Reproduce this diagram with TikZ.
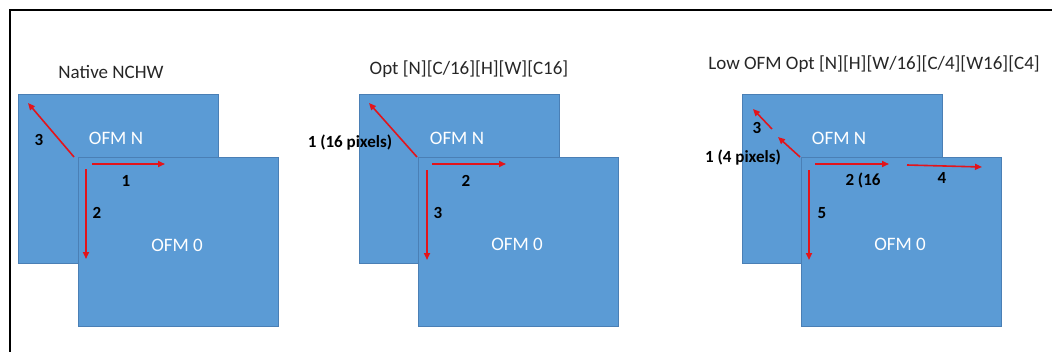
\documentclass[tikz,border=0pt]{standalone}
\usepackage{fontspec}
\setmainfont{Carlito}
\usetikzlibrary{arrows.meta}
\definecolor{ofmfill}{HTML}{5B9BD5}
\definecolor{ofmdraw}{HTML}{4A7FB5}
\definecolor{arrred}{HTML}{E3141B}
\tikzset{
  ofm/.style={draw=ofmdraw, line width=0.8pt, fill=ofmfill, minimum width=200pt, minimum height=169pt, inner sep=0pt},
  ofmtext/.style={text=white, font=\fontsize{19}{22}\selectfont, inner sep=0pt},
  title/.style={text=black!85, font=\fontsize{19}{22}\selectfont, inner sep=0pt},
  lbl/.style={text=black, font=\bfseries\fontsize{17}{20}\selectfont, inner sep=0pt},
  redarr/.style={draw=arrred, line width=1.6pt, -{Triangle[length=7pt,width=6pt]}}
}
\begin{document}
\begin{tikzpicture}[x=1pt,y=-1pt]
\useasboundingbox (0,0) rectangle (1052,351);
\draw[line width=2pt] (10,352) -- (10,10) -- (1053,10);
% ---------- Panel 1 ----------
\node[title] (t1) at (111,72) {Native NCHW};
\node[ofm, anchor=north west] (b1) at (18,94) {};
\node[ofm, anchor=north west] (f1) at (78,157) {};
\node[ofmtext] (n1) at (116,138) {OFM N};
\node[ofmtext] (z1) at (177,245) {OFM 0};
\coordinate (a3s1) at (74,157); \coordinate (a3e1) at (28,103);
\coordinate (a1s1) at (92,164); \coordinate (a1e1) at (165,164);
\coordinate (a2s1) at (86,169); \coordinate (a2e1) at (86,259);
\draw[redarr] (a3s1) -- (a3e1);
\draw[redarr] (a1s1) -- (a1e1);
\draw[redarr] (a2s1) -- (a2e1);
\node[lbl] (l31) at (39,140) {3};
\node[lbl] (l11) at (126,181) {1};
\node[lbl] (l21) at (97,213) {2};
% ---------- Panel 2 ----------
\node[title] (t2) at (469,69) {Opt [N][C/16][H][W][C16]};
\node[ofm, anchor=north west] (b2) at (359,94) {};
\node[ofm, anchor=north west] (f2) at (418,157) {};
\node[ofmtext] (n2) at (457,138) {OFM N};
\node[ofmtext] (z2) at (517,244) {OFM 0};
\coordinate (a1s2) at (417,157); \coordinate (a1e2) at (369,103);
\coordinate (a2s2) at (432,164); \coordinate (a2e2) at (506,164);
\coordinate (a3s2) at (427,170); \coordinate (a3e2) at (427,260);
\draw[redarr] (a1s2) -- (a1e2);
\draw[redarr] (a2s2) -- (a2e2);
\draw[redarr] (a3s2) -- (a3e2);
\node[lbl] (l12) at (350,143) {1 (16 pixels)};
\node[lbl] (l22) at (466,181) {2};
\node[lbl] (l32) at (438,213) {3};
% ---------- Panel 3 ----------
\node[title] (t3) at (874,64) {Low OFM Opt [N][H][W/16][C/4][W16][C4]};
\node[ofm, anchor=north west] (b3) at (742,94) {};
\node[ofm, anchor=north west] (f3) at (801,157) {};
\node[ofmtext] (n3) at (839,138) {OFM N};
\node[ofmtext] (z3) at (900,244) {OFM 0};
\coordinate (a1s3) at (800,157); \coordinate (a1e3) at (778,137);
\coordinate (a3s3) at (772,129); \coordinate (a3e3) at (753,109);
\coordinate (a2s3) at (815,164); \coordinate (a2e3) at (889,164);
\coordinate (a4s3) at (907,165); \coordinate (a4e3) at (982,167);
\coordinate (a5s3) at (809,170); \coordinate (a5e3) at (809,260);
\draw[redarr] (a1s3) -- (a1e3);
\draw[redarr] (a3s3) -- (a3e3);
\draw[redarr] (a2s3) -- (a2e3);
\draw[redarr] (a4s3) -- (a4e3);
\draw[redarr] (a5s3) -- (a5e3);
\node[lbl] (l33) at (757,128) {3};
\node[lbl] (l13) at (743,158) {1 (4 pixels)};
\node[lbl] (l23) at (863,180) {2 (16};
\node[lbl] (l43) at (942,178) {4};
\node[lbl] (l53) at (822,213) {5};
\end{tikzpicture}
\end{document}
